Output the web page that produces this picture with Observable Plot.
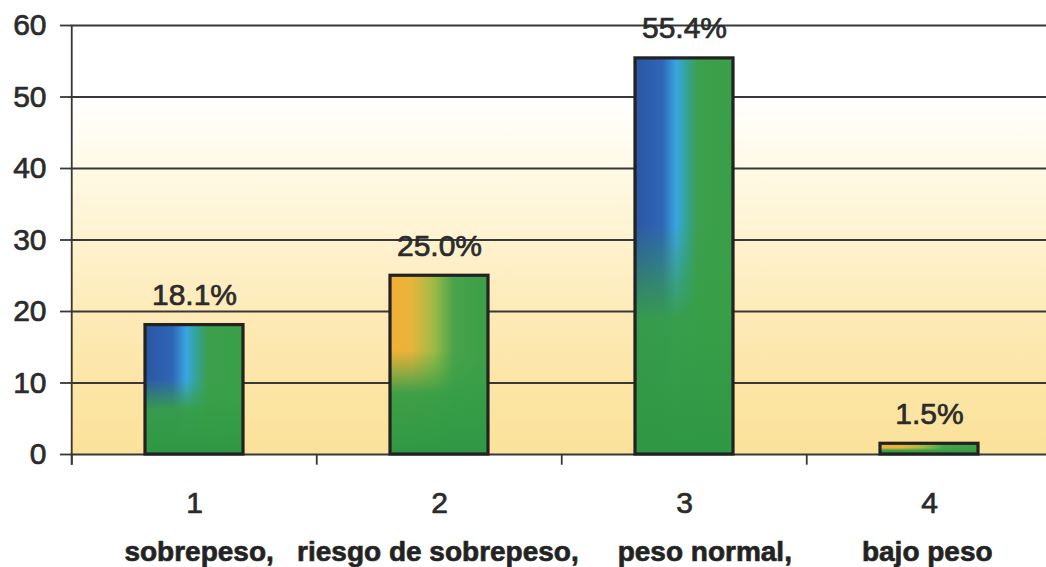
<!DOCTYPE html>
<html>
<head>
<meta charset="utf-8">
<script src="https://cdn.jsdelivr.net/npm/d3@7"></script>
<script src="https://cdn.jsdelivr.net/npm/@observablehq/plot@0.6"></script>
<style>
  html, body { margin: 0; padding: 0; background: #ffffff; }
  #chart svg { display: block; }
  /* heavier strokes on every label, like a printed chart */
  #chart svg text { stroke: #2b2b2b; stroke-width: 0.7px; stroke-linejoin: round; }
  #chart svg text.names { stroke-width: 0.9px; }
</style>
</head>
<body>
<div id="chart"></div>
<script>
// Tick labels, category names and percentages per group
const tickLabels = ["1", "2", "3", "4"];
const categoryNames = ["sobrepeso,", "riesgo de sobrepeso,", "peso normal,", "bajo peso"];
const percentages = [18.1, 25.0, 55.4, 1.5];
const yTicks = [0, 10, 20, 30, 40, 50, 60];

const rows = tickLabels.map((t, i) => ({ tick: t, name: categoryNames[i], value: percentages[i] }));

// Layout of the band axis: ticks sit on the band boundaries, bars in the middle
const xRange = [70, 1052];
const step = (xRange[1] - xRange[0]) / tickLabels.length;

// The category names run as one line under the numbered ticks
const nameGaps = [3, 5, 9];
const nameLine = categoryNames.reduce(
  (s, n, i) => (i === 0 ? n : s + "\u00a0".repeat(nameGaps[i - 1]) + n), "");

const font = "'Liberation Sans', Arial, Helvetica, sans-serif";
const ink = "#2b2b2b";
const gridInk = "#383838";

const chart = Plot.plot({
  width: 1046,
  height: 567,
  marginTop: 25,
  marginBottom: 113,
  marginLeft: 70,
  marginRight: 0,
  style: { fontFamily: font, fontSize: "30px", color: ink, background: "#ffffff" },
  x: { type: "band", domain: tickLabels, range: xRange, paddingInner: 0.6, paddingOuter: 0.3 },
  y: { domain: [0, 60] },
  color: { type: "identity" },
  marks: [
    Plot.frame({ fill: "url(#plotBg)", stroke: "none" }),
    Plot.ruleY(yTicks, { stroke: gridInk, strokeWidth: 1.8 }),
    // boundary ticks below the baseline
    Plot.ruleX(tickLabels, { x: d => d, dx: -step / 2, y1: 0, y2: -1.5, stroke: gridInk, strokeWidth: 1.8 }),
    // vertical axis line
    Plot.ruleX(tickLabels.slice(0, 1), { x: d => d, dx: -step / 2, y1: -1.5, y2: 60, stroke: gridInk, strokeWidth: 1.8 }),
    Plot.barY(rows, { x: "tick", y: "value", fill: (d, i) => (i % 2 ? "url(#barOrange)" : "url(#barBlue)") }),
    Plot.barY(rows, { x: "tick", y: "value", fill: "url(#barShade)", stroke: "#222222", strokeWidth: 3.2 }),
    Plot.text(rows, {
      x: "tick", y: "value", text: d => d.value.toFixed(1) + "%",
      lineAnchor: "bottom", dy: -20, fontSize: 30, fill: ink
    }),
    Plot.axisY({ ticks: yTicks, tickSize: 10, tickPadding: 14, label: null, fontSize: 30, stroke: gridInk, strokeWidth: 1.8 }),
    Plot.axisX({ tickSize: 0, tickPadding: 37, label: null, fontSize: 30 }),
    Plot.text([nameLine], {
      frameAnchor: "bottom", text: d => d, dy: 98, lineAnchor: "middle",
      fontWeight: "bold", fontSize: 28, fill: "#222222", className: "names"
    })
  ]
});

document.getElementById("chart").appendChild(chart);

// Gradient paints used by the plot background and the bars
const defs = d3.select(chart).insert("defs", ":first-child");

function linear(id, horizontal, stops) {
  const g = defs.append("linearGradient")
    .attr("id", id)
    .attr("x1", 0).attr("y1", 0)
    .attr("x2", horizontal ? 1 : 0).attr("y2", horizontal ? 0 : 1);
  stops.forEach(([o, c, a]) => {
    g.append("stop").attr("offset", o).attr("stop-color", c).attr("stop-opacity", a == null ? 1 : a);
  });
}

linear("plotBg", false, [
  [0, "#ffffff"], [0.17, "#ffffff"], [0.33, "#fffae6"], [0.5, "#fef2cf"],
  [0.67, "#fdeab7"], [0.83, "#fce5a6"], [1, "#fbe29a"]
]);
linear("barBlue", true, [
  [0, "#2c56a4"], [0.28, "#2e66b6"], [0.42, "#3aa5e0"], [0.52, "#34a39a"],
  [0.64, "#3ca04c"], [1, "#3a9f48"]
]);
linear("barOrange", true, [
  [0, "#f2b035"], [0.22, "#e8b43b"], [0.45, "#9cba45"], [0.65, "#48a34a"], [1, "#3a9f48"]
]);
linear("barShade", false, [
  [0, "#3a9f48", 0], [0.42, "#3a9f48", 0], [0.66, "#379e47", 0.95], [1, "#2f9844", 1]
]);
</script>
</body>
</html>
